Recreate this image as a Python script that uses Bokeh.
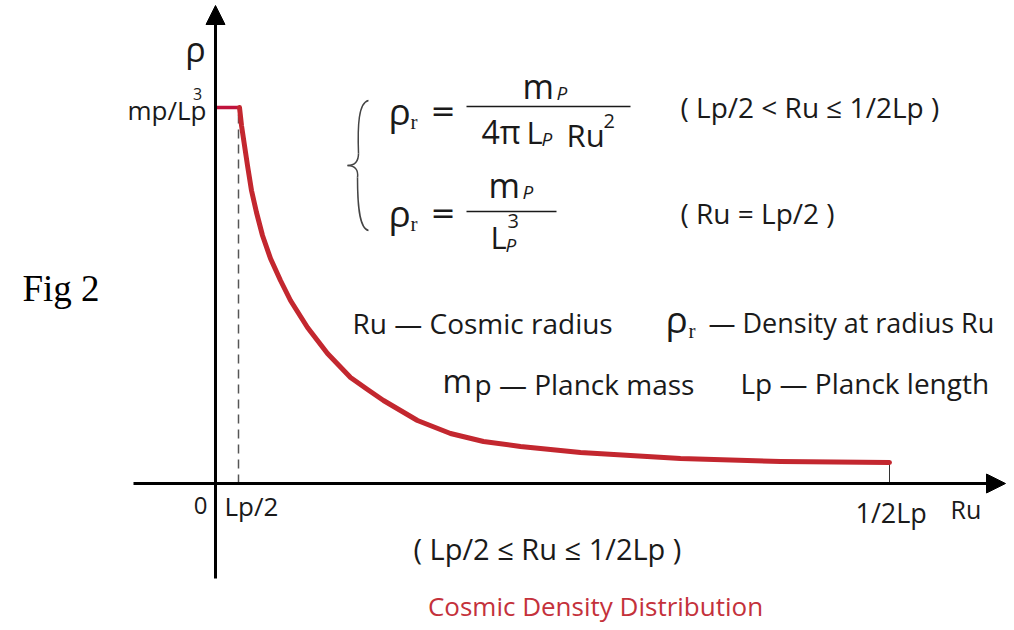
from bokeh.plotting import figure
from bokeh.models import Range1d, Arrow, NormalHead
from bokeh.core.properties import value
from bokeh.embed import file_html
from bokeh.resources import INLINE

# ---- data (arbitrary schematic units; origin at Ru=0, rho=0) ----
ru = [24, 26, 29, 32, 36, 41, 47, 55, 65, 75, 92, 112, 135, 152, 168, 202, 235, 268, 305, 365, 465, 565, 674]
rho = [376, 358, 338, 318, 293, 271, 248, 225, 203, 183, 156, 130, 106, 94, 83, 63, 50, 42, 37, 31, 25, 22, 21]
flat_ru = [0, 24]
flat_rho = [376, 376]
lp_half = 23          # Ru = Lp/2
ru_max = 674          # Ru = 1/2Lp
rho_max = 376         # mp/Lp^3

# ---- layout helpers: page pixel -> data ----
OX, OY = 215, 483
def X(px):
    return px - OX
def Y(py):
    return OY - py

W, H = 1006, 622
p = figure(width=W, height=H, output_backend="svg", toolbar_location=None,
           x_range=Range1d(0 - OX, W - OX), y_range=Range1d(OY - H, OY),
           min_border=0)
p.axis.visible = False
p.grid.visible = False
p.outline_line_color = None
p.background_fill_color = "white"

SANS = value("Open Sans")
SERIF = value("Liberation Serif")
DJ = value("DejaVu Sans")
INK = "#1a1a1a"

# axes with arrows
p.add_layout(Arrow(end=NormalHead(size=19, fill_color="black", line_color="black"),
                   x_start=0, y_start=Y(578), x_end=0, y_end=Y(5),
                   line_width=3, line_color="black"))
p.add_layout(Arrow(end=NormalHead(size=19, fill_color="black", line_color="black"),
                   x_start=X(133), y_start=0, x_end=X(1005), y_end=0,
                   line_width=3, line_color="black"))

# dashed guide at Lp/2
p.segment(x0=[lp_half], y0=[0], x1=[lp_half], y1=[rho_max], line_color="#555555",
          line_width=1.5, line_dash="9 6")
# small tick at 1/2Lp
p.segment(x0=[ru_max], y0=[0], x1=[ru_max], y1=[rho[-1]], line_color="#333333", line_width=1)

# density curve
p.line(flat_ru, flat_rho, line_color="#c0123c", line_width=3.5)
p.line(ru, rho, line_color="#c3272f", line_width=5, line_join="round", line_cap="round")

def txt(px, py, s, size, align="left", font=SANS, color=INK, style="normal"):
    p.text(x=[X(px)], y=[Y(py)], text=[s], text_font=font, text_font_size=f"{size}px",
           text_align=align, text_baseline="middle", text_color=color, text_font_style=style)

# axis labels
txt(195, 48, "ρ", 34, align="center")
txt(206, 109, "mp/Lp", 26, align="right")
txt(197, 93, "3", 16, align="center")
txt(207, 505, "0", 24, align="right")
txt(224, 505, "Lp/2", 26)
txt(855, 512, "1/2Lp", 27)
txt(950, 508, "Ru", 25)
txt(413, 548, "( Lp/2 ≤ Ru ≤ 1/2Lp )", 29)
txt(595, 605, "Cosmic Density Distribution", 26, align="center", color="#c4313b")
txt(22, 288, "Fig 2", 37, font=SERIF, color="#000000")

# brace
p.bezier(x0=[X(368), X(358), X(347), X(357)],
         y0=[Y(100), Y(153), Y(165), Y(177)],
         x1=[X(358), X(347), X(357), X(368)],
         y1=[Y(153), Y(165), Y(177), Y(230)],
         cx0=[X(358), X(358), X(355), X(357)],
         cy0=[Y(102), Y(160), Y(165), Y(200)],
         cx1=[X(357), X(355), X(358), X(358)],
         cy1=[Y(125), Y(165), Y(170), Y(228)],
         line_color="#444444", line_width=1.5)

# formula 1
txt(388, 110, "ρ", 37)
txt(410, 121, "r", 21, font=SERIF)
txt(430, 110, "=", 30, font=DJ)
txt(522, 85, "m", 34)
txt(556, 92, "P", 19, style="italic")
p.segment(x0=[X(466)], y0=[Y(106)], x1=[X(630)], y1=[Y(106)], line_color=INK, line_width=1.5)
txt(481, 131, "4π", 32)
txt(526, 131, "L", 31)
txt(541, 138, "P", 19, style="italic")
txt(566, 134, "Ru", 31)
txt(603, 120, "2", 20)
txt(680, 106, "( Lp/2  < Ru ≤ 1/2Lp )", 28)

# formula 2
txt(388, 212, "ρ", 37)
txt(410, 223, "r", 21, font=SERIF)
txt(430, 212, "=", 30, font=DJ)
txt(488, 184, "m", 34)
txt(522, 191, "P", 19, style="italic")
p.segment(x0=[X(466)], y0=[Y(211)], x1=[X(556)], y1=[Y(211)], line_color=INK, line_width=1.5)
txt(490, 236, "L", 31)
txt(505, 244, "P", 19, style="italic")
txt(507, 220, "3", 20)
txt(680, 212, "( Ru = Lp/2 )", 28)

# legend texts
txt(352, 322, "Ru — Cosmic radius", 28)
txt(665, 318, "ρ", 37)
txt(688, 330, "r", 21, font=SERIF)
txt(708, 322, "— Density at radius Ru", 27)
txt(442, 380, "m", 32)
txt(474, 383, "p — Planck mass", 28)
txt(740, 382, "Lp — Planck length", 28)

open("out.html", "w").write(file_html(p, INLINE))
